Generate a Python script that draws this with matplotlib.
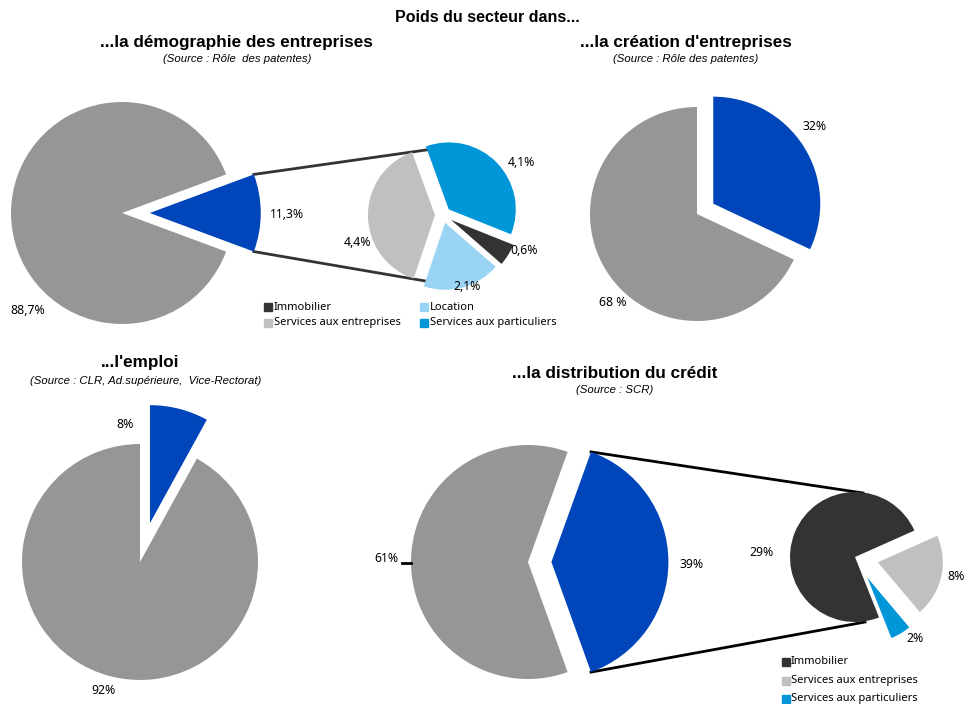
import numpy as np
import matplotlib
matplotlib.use("Agg")
import matplotlib.pyplot as plt
from matplotlib.transforms import Affine2D

plt.rcParams['font.family'] = ['Noto Sans', 'DejaVu Sans']

# poids du secteur, en %
demo_parts = [11.3, 88.7]                 # secteur / autres
demo_detail_labels = ["Services aux particuliers", "Immobilier", "Location", "Services aux entreprises"]
demo_detail = [4.1, 0.6, 2.1, 4.4]
creation_parts = [32, 68]
emploi_parts = [8, 92]
credit_parts = [39, 61]
credit_detail_labels = ["Immobilier", "Services aux particuliers", "Services aux entreprises"]
credit_detail = [29, 2, 8]

BLEU = "#0046BA"
GRIS = "#969696"
SOMBRE = "#333333"
GRIS_CLAIR = "#C0C0C0"
BLEU_MOYEN = "#0096D8"
BLEU_CLAIR = "#99D4F5"
couleurs_detail = {"Immobilier": SOMBRE, "Location": BLEU_CLAIR,
                   "Services aux entreprises": GRIS_CLAIR,
                   "Services aux particuliers": BLEU_MOYEN}

fig = plt.figure(figsize=(9.65, 7.04), dpi=100)
ax = fig.add_axes([0, 0, 1, 1])
ax.set_xlim(0, 965)
ax.set_ylim(704, 0)


def pct(v, dec=1, sep=""):
    s = f"{v:.{dec}f}".replace(".", ",")
    return s + sep + "%"


def camembert(values, colors, cx, cy, rx, ry, startangle=0, counterclock=True, explode=None):
    wedges, _ = ax.pie(values, colors=colors, startangle=startangle,
                       counterclock=counterclock, explode=explode,
                       radius=1, center=(0, 0), frame=True,
                       wedgeprops=dict(linewidth=0))
    tr = Affine2D().scale(rx, -ry).translate(cx, cy)
    for w in wedges:
        w.set_transform(tr + ax.transData)
    return wedges, tr


def coin(w, tr, ang):
    a = np.radians(ang)
    u = w.center[0] + w.r * np.cos(a)
    v = w.center[1] + w.r * np.sin(a)
    return tr.transform((u, v))


fs = 8.8    # valeurs
fl = 8      # légendes

# ---- la démographie des entreprises
demi = 360 * demo_parts[0] / sum(demo_parts) / 2
w1, tr1 = camembert(demo_parts, [BLEU, GRIS], 122, 213, 111, 111,
                    startangle=-demi, explode=[0.25, 0])
cols = [couleurs_detail[l] for l in demo_detail_labels]
w1b, tr1b = camembert(demo_detail, cols, 443, 215, 67, 67, startangle=110,
                      counterclock=False, explode=[0.12, 0.14, 0.12, 0.12])
haut = coin(w1[0], tr1, w1[0].theta2)
bas = coin(w1[0], tr1, w1[0].theta1)
ax.plot([haut[0], 440], [haut[1], 148], color=SOMBRE, lw=2, zorder=0)
ax.plot([bas[0], 437], [bas[1], 283], color=SOMBRE, lw=2, zorder=0)

ax.text(28, 310, pct(demo_parts[1]), ha="center", va="center", fontsize=fs)
ax.text(287, 215, pct(demo_parts[0]), ha="center", va="center", fontsize=fs)
for lab, v, (x, y) in zip(demo_detail_labels, demo_detail,
                          [(521, 163), (524, 251), (467, 287), (357, 242)]):
    ax.text(x, y, pct(v), ha="center", va="center", fontsize=fs)

legende1 = [("Immobilier", 268, 307), ("Location", 424, 307),
            ("Services aux entreprises", 268, 323), ("Services aux particuliers", 424, 323)]
for lab, x, y in legende1:
    ax.plot(x, y, marker="s", ms=5.5, color=couleurs_detail[lab], lw=0)
    ax.text(x + 6, y, lab, ha="left", va="center", fontsize=fl)

# ---- la création d'entreprises
camembert(creation_parts, [BLEU, GRIS], 697, 214, 107, 107, startangle=90,
          counterclock=False, explode=[0.18, 0])
ax.text(815, 126, pct(creation_parts[0], 0), ha="center", va="center", fontsize=fs)
ax.text(613, 303, pct(creation_parts[1], 0, " "), ha="center", va="center", fontsize=fs)

# ---- l'emploi
camembert(emploi_parts, [BLEU, GRIS], 140, 562, 118, 118, startangle=90,
          counterclock=False, explode=[0.34, 0])
ax.text(125, 424, pct(emploi_parts[0], 0), ha="center", va="center", fontsize=fs)
ax.text(104, 690, pct(emploi_parts[1], 0), ha="center", va="center", fontsize=fs)

# ---- la distribution du crédit
demi = 360 * credit_parts[0] / sum(credit_parts) / 2
w4, tr4 = camembert(credit_parts, [BLEU, GRIS], 528, 562, 117, 117,
                    startangle=-demi, explode=[0.2, 0])
cols = [couleurs_detail[l] for l in credit_detail_labels]
camembert(credit_detail, cols, 855, 557, 65, 65, startangle=24,
          explode=[0, 0.37, 0.36])
haut = coin(w4[0], tr4, w4[0].theta2)
bas = coin(w4[0], tr4, w4[0].theta1)
ax.plot([haut[0], 863], [haut[1], 493], color="black", lw=2, zorder=0)
ax.plot([bas[0], 865], [bas[1], 622], color="black", lw=2, zorder=0)
ax.plot([402, 411], [563, 563], color="black", lw=2)

ax.text(386, 558, pct(credit_parts[1], 0), ha="center", va="center", fontsize=fs)
ax.text(692, 564, pct(credit_parts[0], 0), ha="center", va="center", fontsize=fs)
for lab, v, (x, y) in zip(credit_detail_labels, credit_detail,
                          [(762, 552), (915, 639), (956, 577)]):
    ax.text(x, y, pct(v, 0), ha="center", va="center", fontsize=fs)

for lab, y in [("Immobilier", 662), ("Services aux entreprises", 681),
               ("Services aux particuliers", 699)]:
    ax.plot(786, y, marker="s", ms=5.5, color=couleurs_detail[lab], lw=0)
    ax.text(791, y, lab, ha="left", va="center", fontsize=fl)

# titres
ax.text(487, 18, "Poids du secteur dans...", ha="center", va="center",
        fontsize=11.5, fontweight="bold", family="Liberation Sans")
titres = [("...la démographie des entreprises", 236, 43, "(Source : Rôle  des patentes)", 237, 59),
          ("...la création d'entreprises", 686, 43, "(Source : Rôle des patentes)", 686, 59),
          ("...l'emploi", 140, 363, "(Source : CLR, Ad.supérieure,  Vice-Rectorat)", 146, 381),
          ("...la distribution du crédit", 615, 374, "(Source : SCR)", 615, 390)]
for t, x, y, s, xs, ys in titres:
    ax.text(x, y, t, ha="center", va="center", fontsize=12.3, fontweight="bold",
            family="Liberation Sans")
    ax.text(xs, ys, s, ha="center", va="center", fontsize=8.2, style="italic",
            family="Liberation Sans")

ax.set_xlim(0, 965)
ax.set_ylim(704, 0)
ax.set_aspect("auto")
ax.axis("off")
fig.savefig("out.png", dpi=100)
